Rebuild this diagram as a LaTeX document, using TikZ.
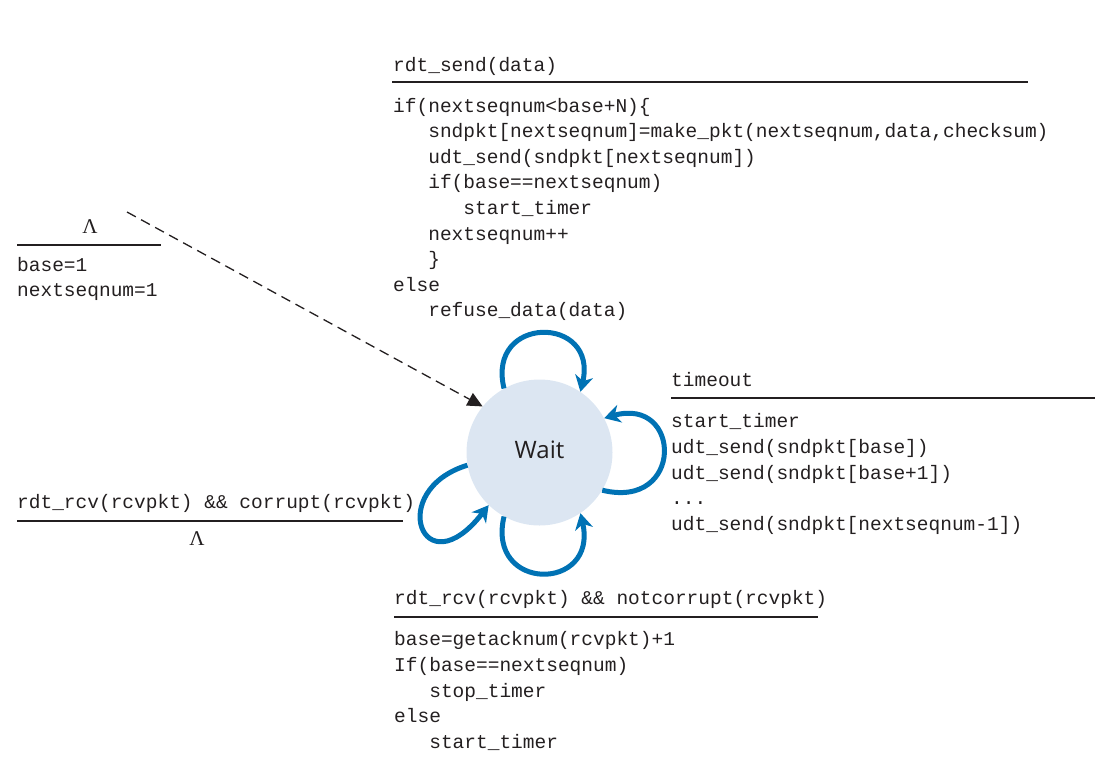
\documentclass[tikz,border=0pt]{standalone}
\usepackage{fontspec}
\setmonofont{Liberation Mono}
\newfontfamily\waitfont{Open Sans}
\newfontfamily\lamfont{Liberation Serif}
\usetikzlibrary{arrows.meta}
\definecolor{loopblue}{RGB}{0,114,180}
\definecolor{waitfill}{RGB}{220,230,242}
\definecolor{ink}{RGB}{35,31,32}
\newcommand{\ind}{\hspace*{35.1pt}}
\newcommand{\codefont}{\ttfamily\fontsize{19.5}{25.6}\selectfont}

\begin{document}
\begin{tikzpicture}[x=1pt,y=-1pt,
  code/.style={font=\codefont, text=ink, inner sep=0pt},
  block/.style={code, align=left, anchor=north west},
  event/.style={code, anchor=base west},
  lam/.style={font=\lamfont\fontsize{21}{24}\selectfont, text=ink, inner sep=0pt, anchor=base},
  bar/.style={line width=1.4pt, ink},
  selfloop/.style={line width=5pt, loopblue, -{Stealth[length=16pt,width=18pt,inset=5pt]}}]
\useasboundingbox (0,0) rectangle (1117,761);

\node[circle, fill=waitfill, minimum size=146pt, inner sep=0pt, text height=16.7pt, text depth=5pt,
  font=\waitfont\fontsize{24}{28}\selectfont, text=ink] (wait) at (539.5,452.5) {Wait};

\node[event] (send) at (393,71) {rdt\_send(data)};
\draw[bar] (392,82) to (1028,82);
\node[block] (sendact) at (393,94) {\strut if(nextseqnum<base+N)\{\\
\ind sndpkt[nextseqnum]=make\_pkt(nextseqnum,data,checksum)\\
\ind udt\_send(sndpkt[nextseqnum])\\
\ind if(base==nextseqnum)\\
\ind\ind start\_timer\\
\ind nextseqnum++\\
\ind \}\\
else\\
\ind refuse\_data(data)};

\node[lam] (initlam) at (90,233) {Λ};
\draw[bar] (17,245) to (161,245);
\node[block] (initact) at (17,253) {\strut base=1\\nextseqnum=1};
\coordinate (start) at (127,212);
\draw[ink, line width=1.3pt, dash pattern=on 10pt off 6pt, -{Triangle[length=15pt,width=14pt]}] (start) to (wait.141);

\node[event] (timeout) at (671,386) {timeout};
\draw[bar] (671,398) to (1095,398);
\node[block] (timeoutact) at (671,409.7) {\strut start\_timer\\
udt\_send(sndpkt[base])\\
udt\_send(sndpkt[base+1])\\
...\\
udt\_send(sndpkt[nextseqnum-1])};

\node[event] (corrupt) at (17,508) {rdt\_rcv(rcvpkt) \&\& corrupt(rcvpkt)};
\draw[bar] (17,521) to (403,521);
\node[lam] (corruptlam) at (197,545) {Λ};

\node[event] (notcorrupt) at (394,604.3) {rdt\_rcv(rcvpkt) \&\& notcorrupt(rcvpkt)};
\draw[bar] (394,617) to (818,617);
\node[block] (notcorruptact) at (394,627.7) {\strut base=getacknum(rcvpkt)+1\\
If(base==nextseqnum)\\
\ind stop\_timer\\
else\\
\ind start\_timer};

\draw[selfloop] (wait.119) .. controls +(-18,-74) and +(18,-77) .. (wait.56);
\draw[selfloop] (wait.-31) .. controls +(82,20) and +(78,-22) .. (wait.28);
\draw[selfloop] (wait.-119) .. controls +(-18,76) and +(18,79) .. (wait.-56);
\draw[selfloop] (wait.-170) .. controls +(-82,25) and +(-66,85) .. (wait.-134);
\end{tikzpicture}
\end{document}
